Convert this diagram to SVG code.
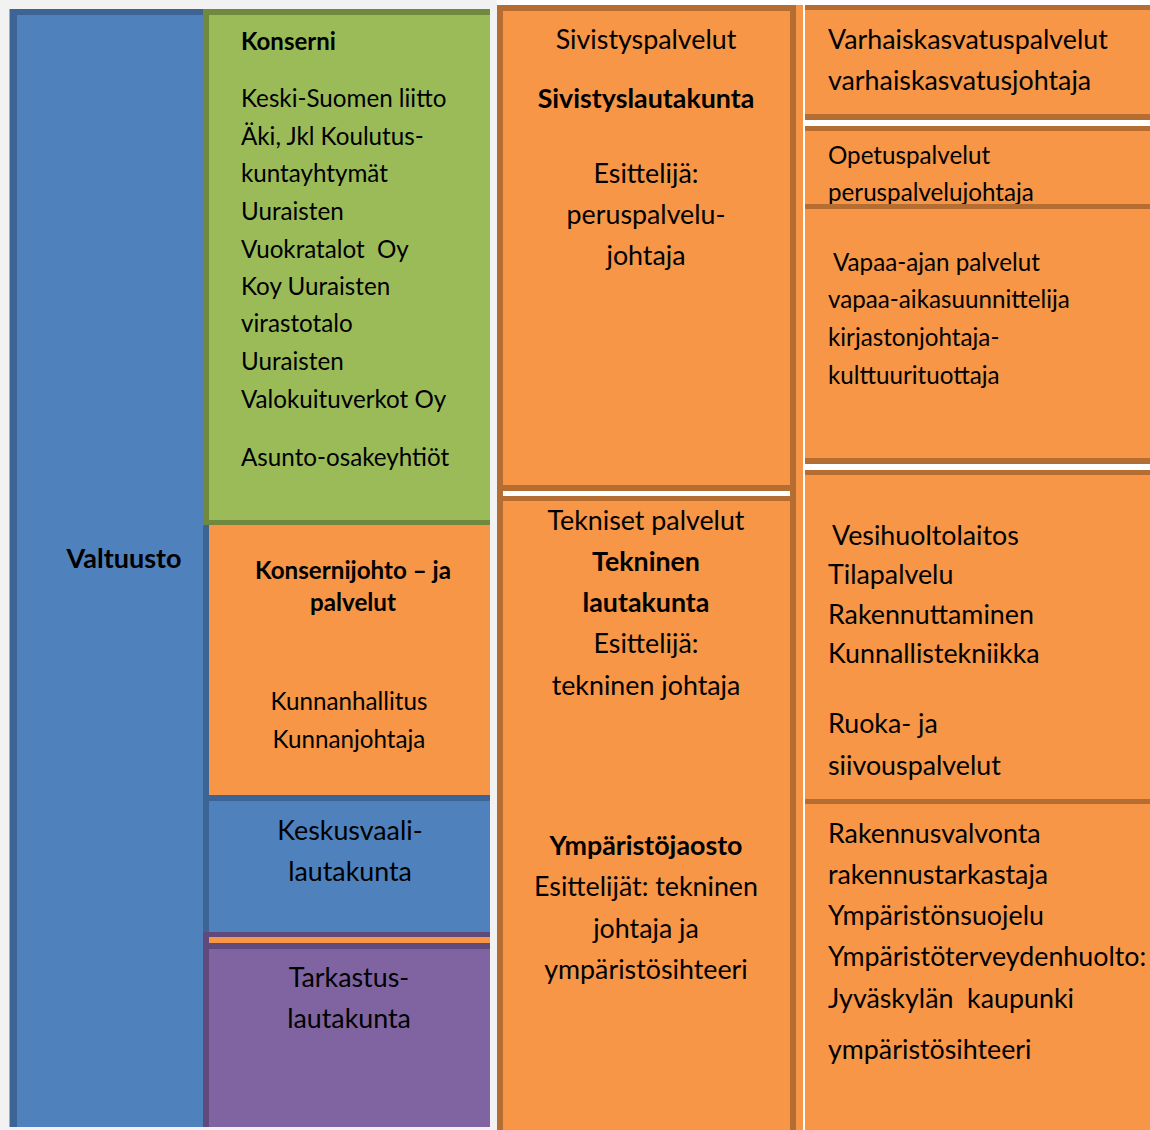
<svg xmlns="http://www.w3.org/2000/svg" width="1150" height="1130" viewBox="0 0 1150 1130">
<style>
text{font-family:Lato,"Open Sans","Liberation Sans",sans-serif;fill:#000;}
.b{font-weight:bold;}
.m{text-anchor:middle;}
.s22{font-size:24.2px;}
.s24{font-size:26.8px;}
.s25{font-size:26.8px;}
.bl{fill:#4f81bd}.blb{fill:#3c6595}
.gr{fill:#9bbb59}.grb{fill:#71893f}
.or{fill:#f79646}.orb{fill:#b66d31}
.pu{fill:#8064a2}.pub{fill:#5f4a7b}
</style>
<rect x="0" y="0" width="1150" height="1130" fill="#ffffff"/>
<rect x="0" y="0" width="497" height="1130" fill="#f2f2f2"/>

<g id="valtuusto">
<rect x="9" y="9" width="1.5" height="1118" fill="#f79646"/>
<rect x="10" y="9" width="199" height="1118" class="blb"/>
<rect x="17" y="15" width="186" height="1112" class="bl"/>
<text x="124" y="568" class="m b" font-size="27">Valtuusto</text>
</g>

<g id="konserni">
<rect x="203" y="9" width="287" height="516" class="grb"/>
<rect x="209" y="15" width="281" height="505" class="gr"/>
<text x="241" y="50" class="b" font-size="24">Konserni</text>
<text class="s22">
<tspan x="241" y="107">Keski-Suomen liitto</tspan>
<tspan x="241" y="145">Äki, Jkl Koulutus-</tspan>
<tspan x="241" y="182">kuntayhtymät</tspan>
<tspan x="241" y="220">Uuraisten</tspan>
<tspan x="241" y="258">Vuokratalot &#160;Oy</tspan>
<tspan x="241" y="295">Koy Uuraisten</tspan>
<tspan x="241" y="332">virastotalo</tspan>
<tspan x="241" y="370">Uuraisten</tspan>
<tspan x="241" y="408">Valokuituverkot Oy</tspan>
<tspan x="241" y="466">Asunto-osakeyhtiöt</tspan>
</text>
</g>

<g id="konsernijohto">
<rect x="209" y="525" width="281" height="270" class="or"/>
<text x="353" y="579" class="m b s22">Konsernijohto – ja</text>
<text x="353" y="611" class="m b s22">palvelut</text>
<text x="349" y="710" class="m s22">Kunnanhallitus</text>
<text x="349" y="748" class="m s22">Kunnanjohtaja</text>
</g>

<g id="keskusvaali">
<rect x="203" y="795" width="287" height="137" class="blb"/>
<rect x="209" y="801" width="281" height="131" class="bl"/>
<text x="350" y="840" class="m s25">Keskusvaali-</text>
<text x="350" y="881" class="m s25">lautakunta</text>
</g>

<g id="tarkastus">
<rect x="203" y="932" width="287" height="195" class="pub"/>
<rect x="209" y="937" width="281" height="6" class="or"/>
<rect x="209" y="949" width="281" height="178" class="pu"/>
<text x="349" y="987" class="m s25">Tarkastus-</text>
<text x="349" y="1028" class="m s25">lautakunta</text>
</g>

<rect x="497" y="5" width="306" height="1125" class="or"/>
<rect x="497" y="5" width="299" height="1125" class="orb"/>

<g id="sivistys">
<rect x="503" y="11" width="287" height="474" class="or"/>
<text x="646" y="49" class="m s24">Sivistyspalvelut</text>
<text x="646" y="108" class="m b s24">Sivistyslautakunta</text>
<text x="646" y="183" class="m s24">Esittelijä:</text>
<text x="646" y="224" class="m s24">peruspalvelu-</text>
<text x="646" y="265" class="m s24">johtaja</text>
</g>

<rect x="503" y="491" width="287" height="5" fill="#ffffff"/>

<g id="tekninen">
<rect x="503" y="501" width="287" height="629" class="or"/>
<text x="646" y="530" class="m s24">Tekniset palvelut</text>
<text x="646" y="571" class="m b s24">Tekninen</text>
<text x="646" y="612" class="m b s24">lautakunta</text>
<text x="646" y="653" class="m s24">Esittelijä:</text>
<text x="646" y="695" class="m s24">tekninen johtaja</text>
<text x="646" y="855" class="m b s24">Ympäristöjaosto</text>
<text x="646" y="896" class="m s24">Esittelijät: tekninen</text>
<text x="646" y="938" class="m s24">johtaja ja</text>
<text x="646" y="979" class="m s24">ympäristösihteeri</text>
</g>

<rect x="803" y="11" width="2" height="1119" fill="#ffffff"/>

<g id="varhaiskasvatus">
<rect x="805" y="5" width="345" height="115" class="orb"/>
<rect x="805" y="10" width="345" height="104" class="or"/>
<text x="828" y="49" class="s24">Varhaiskasvatuspalvelut</text>
<text x="828" y="90" class="s24">varhaiskasvatusjohtaja</text>
</g>

<g id="opetus">
<rect x="805" y="126" width="345" height="83" class="orb"/>
<rect x="805" y="131" width="345" height="73" class="or"/>
<text x="828" y="164" class="s22">Opetuspalvelut</text>
<text x="828" y="201" class="s22">peruspalvelujohtaja</text>
<rect x="805" y="204" width="345" height="5" class="orb"/>
</g>

<g id="vapaa-aika">
<rect x="805" y="209" width="345" height="255" class="orb"/>
<rect x="805" y="209" width="345" height="249" class="or"/>
<text x="833" y="271" class="s22">Vapaa-ajan palvelut</text>
<text class="s22">
<tspan x="828" y="308">vapaa-aikasuunnittelija</tspan>
<tspan x="828" y="346">kirjastonjohtaja-</tspan>
<tspan x="828" y="384">kulttuurituottaja</tspan>
</text>
</g>

<g id="tekniset-palvelut">
<rect x="805" y="470" width="345" height="334" class="orb"/>
<rect x="805" y="475" width="345" height="324" class="or"/>
<text class="s24">
<tspan x="832" y="545">Vesihuoltolaitos</tspan>
<tspan x="828" y="584">Tilapalvelu</tspan>
<tspan x="828" y="624">Rakennuttaminen</tspan>
<tspan x="828" y="663">Kunnallistekniikka</tspan>
<tspan x="828" y="733">Ruoka- ja</tspan>
<tspan x="828" y="775">siivouspalvelut</tspan>
</text>
</g>

<g id="ymparisto">
<rect x="805" y="804" width="345" height="326" class="or"/>
<text class="s24">
<tspan x="828" y="843">Rakennusvalvonta</tspan>
<tspan x="828" y="884">rakennustarkastaja</tspan>
<tspan x="828" y="925">Ympäristönsuojelu</tspan>
<tspan x="828" y="966">Ympäristöterveydenhuolto:</tspan>
<tspan x="828" y="1008">Jyväskylän &#160;kaupunki</tspan>
<tspan x="828" y="1059">ympäristösihteeri</tspan>
</text>
</g>
<g id="connectors"/>
</svg>
